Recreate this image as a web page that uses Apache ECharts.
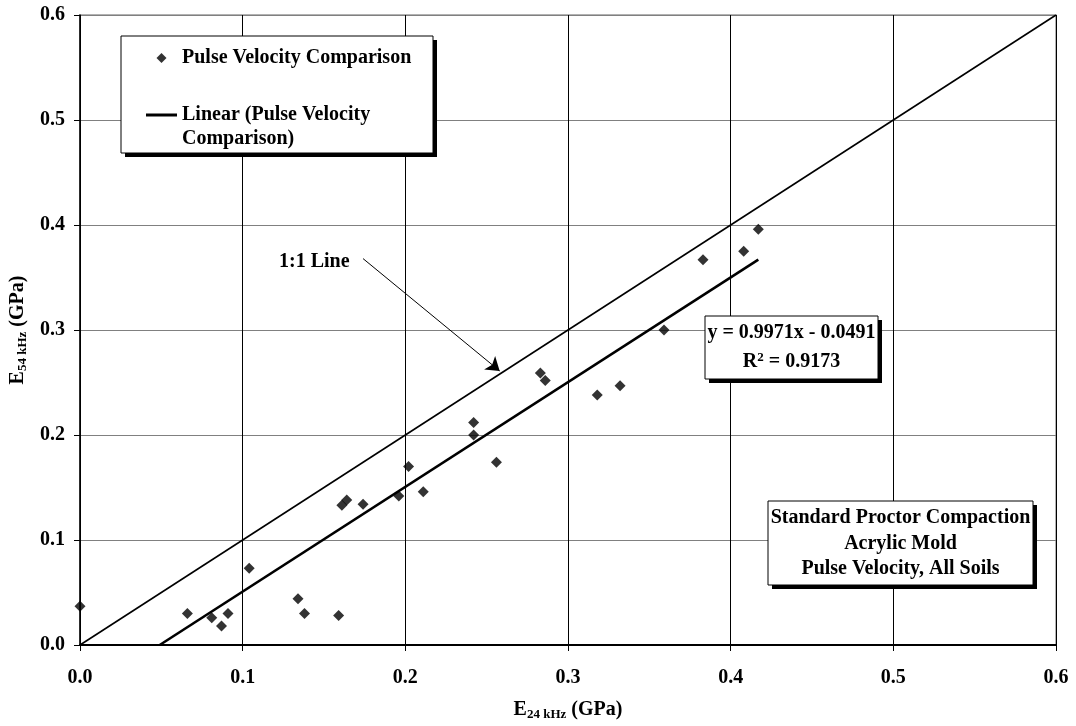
<!DOCTYPE html>
<html>
<head>
<meta charset="utf-8">
<script src="https://cdn.jsdelivr.net/npm/echarts@6/dist/echarts.min.js"></script>
<style>
  * { margin: 0; padding: 0; }
  body { background: #fff; }
  #chart { width: 1076px; height: 726px; }
</style>
</head>
<body>
<div id="chart"></div>
<script>
// pulse velocity comparison points (E24 kHz, E54 kHz), GPa
var pvX = [0, 0.066, 0.081, 0.087, 0.091, 0.104, 0.134, 0.138, 0.159, 0.161, 0.164, 0.174, 0.196,
           0.202, 0.211, 0.242, 0.242, 0.256, 0.283, 0.286, 0.318, 0.332, 0.359, 0.383, 0.408, 0.417];
var pvY = [0.037, 0.030, 0.026, 0.018, 0.030, 0.073, 0.044, 0.030, 0.028, 0.133, 0.138, 0.134, 0.142,
           0.170, 0.146, 0.212, 0.200, 0.174, 0.259, 0.252, 0.238, 0.247, 0.300, 0.367, 0.375, 0.396];
// linear trendline ends
var trendX = [0.049, 0.417];
var trendY = [0, 0.367];
// 1:1 line ends
var oneX = [0, 0.6];
var oneY = [0, 0.6];
// arrow pointing at the 1:1 line
var arrowFrom = [0.174, 0.368];
var arrowTo = [0.258, 0.261];

var seriesName = 'Pulse Velocity Comparison';
var trendName = 'Linear (Pulse Velocity Comparison)';
var font = 'Liberation Serif';

function pairs(xs, ys) {
  var out = [];
  for (var i = 0; i < xs.length; i++) out.push([xs[i], ys[i]]);
  return out;
}

var txt = { fontFamily: font, fontWeight: 'bold', fontSize: 20, color: '#000' };
var nameRich = {
  a: { fontFamily: font, fontWeight: 'bold', fontSize: 20, color: '#000', lineHeight: 22 },
  b: { fontFamily: font, fontWeight: 'bold', fontSize: 13, color: '#000', lineHeight: 22, verticalAlign: 'bottom' }
};

// white box with a hard black drop shadow
function box(x, y, w, h, lines, z) {
  var kids = [
    { type: 'rect', z: z, shape: { x: x + 4, y: y + 4, width: w, height: h }, style: { fill: '#000' } },
    { type: 'rect', z: z, shape: { x: x, y: y, width: w, height: h }, style: { fill: '#fff', stroke: '#000', lineWidth: 1 } }
  ];
  lines.forEach(function (l) {
    kids.push({
      type: 'text', z: z,
      style: {
        x: x + w / 2, y: l.y, text: l.text, align: 'center', verticalAlign: 'middle',
        font: 'bold 20px "Liberation Serif"', fill: '#000', rich: l.rich
      }
    });
  });
  return { type: 'group', children: kids };
}

var chart = echarts.init(document.getElementById('chart'));
chart.setOption({
  animation: false,
  backgroundColor: '#fff',
  grid: { left: 80, right: 20, top: 15, bottom: 80, show: true, borderColor: '#999', borderWidth: 1.5 },
  legend: {
    orient: 'vertical',
    left: 121, top: 36,
    padding: [10, 20, 2, 25],
    itemGap: 9,
    itemWidth: 31, itemHeight: 10,
    z: 6,
    textStyle: { fontFamily: font, fontWeight: 'bold', fontSize: 20, color: '#000', lineHeight: 24 },
    // blank first line keeps the icon level with "Linear (Pulse Velocity"
    formatter: function (n) { return n === trendName ? ' \nLinear (Pulse Velocity\nComparison)' : n; },
    data: [
      { name: seriesName, icon: 'path://M5,0 L10,5 L5,10 L0,5 Z' },
      { name: trendName, icon: 'path://M0,0 L31,0 L31,3 L0,3 Z' }
    ],
    selectedMode: false
  },
  xAxis: {
    type: 'value', min: 0, max: 0.6, interval: 0.1,
    name: '{a|E}{b|24 kHz}{a| (GPa)}',
    nameLocation: 'middle', nameGap: 54,
    nameTextStyle: { rich: nameRich },
    axisLine: { lineStyle: { color: '#000', width: 2 } },
    axisTick: { show: true, length: 6, lineStyle: { color: '#000' } },
    axisLabel: Object.assign({ margin: 23, formatter: function (v) { return v.toFixed(1); } }, txt),
    splitLine: { show: true, lineStyle: { color: '#000', width: 1 } }
  },
  yAxis: {
    type: 'value', min: 0, max: 0.6, interval: 0.1,
    name: '{a|E}{b|54 kHz}{a| (GPa)}',
    nameLocation: 'middle', nameGap: 51,
    nameTextStyle: { rich: nameRich },
    axisLine: { lineStyle: { color: '#000', width: 1.5 } },
    axisTick: { show: true, length: 6, lineStyle: { color: '#000' } },
    axisLabel: Object.assign({ margin: 15, formatter: function (v) { return v.toFixed(1); } }, txt),
    splitLine: { show: true, lineStyle: { color: '#808080', width: 1 } }
  },
  series: [
    {
      name: '1:1',
      type: 'line',
      data: pairs(oneX, oneY),
      symbol: 'none',
      lineStyle: { color: '#000', width: 1.6 },
      silent: true,
      markLine: {
        silent: true,
        symbol: ['none', 'arrow'],
        symbolSize: 13,
        label: { show: false },
        lineStyle: { color: '#000', width: 1, type: 'solid' },
        data: [[{ coord: arrowFrom }, { coord: arrowTo }]]
      }
    },
    {
      name: trendName,
      type: 'line',
      data: pairs(trendX, trendY),
      symbol: 'none',
      lineStyle: { color: '#000', width: 2.6 },
      itemStyle: { color: '#000' }
    },
    {
      name: seriesName,
      type: 'scatter',
      data: pairs(pvX, pvY),
      symbol: 'diamond',
      symbolSize: 11,
      itemStyle: { color: '#000' }
    }
  ],
  graphic: [
    // legend frame
    box(121, 36, 312, 117, [], 5),
    {
      type: 'text', z: 5,
      style: { x: 279, y: 262, text: '1:1 Line', verticalAlign: 'middle', font: 'bold 20px "Liberation Serif"', fill: '#000' }
    },
    box(705, 316, 173, 63, [
      { y: 333, text: 'y = 0.9971x - 0.0491' },
      {
        y: 362, text: '{a|R}{s|2}{a| = 0.9173}',
        rich: {
          a: { fontFamily: font, fontWeight: 'bold', fontSize: 20, fill: '#000', lineHeight: 22 },
          s: { fontFamily: font, fontWeight: 'bold', fontSize: 13, fill: '#000', lineHeight: 22, verticalAlign: 'top' }
        }
      }
    ], 7),
    box(768, 501, 265, 84, [
      { y: 518, text: 'Standard Proctor Compaction' },
      { y: 544, text: 'Acrylic Mold' },
      { y: 569, text: 'Pulse Velocity, All Soils' }
    ], 7)
  ]
});
</script>
</body>
</html>
